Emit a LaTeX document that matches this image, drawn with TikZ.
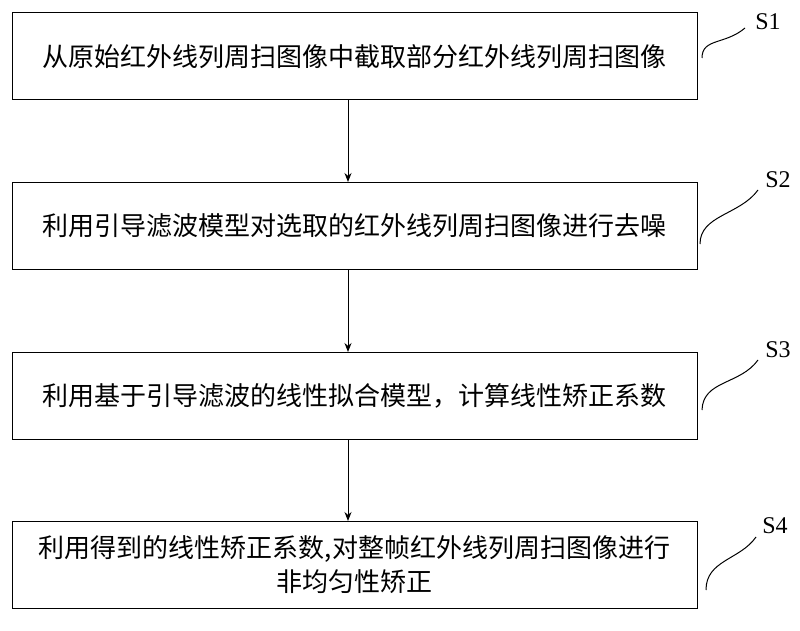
\documentclass[tikz,border=0pt]{standalone}
\usepackage{fontspec}
\setmainfont{Liberation Serif}
\newfontfamily\cjk{Noto Sans CJK SC}
\usetikzlibrary{arrows.meta}
\begin{document}
\begin{tikzpicture}[x=1pt,y=-1pt,
  box/.style={draw,line width=1pt,minimum width=685pt,minimum height=87pt,inner sep=0pt,font=\cjk\fontsize{26}{34}\selectfont,align=center},
  arr/.style={-{Stealth[length=9pt,width=7pt]},line width=1pt},
  lead/.style={line width=1pt},
  lab/.style={font=\fontsize{24}{24}\selectfont}]
\useasboundingbox (0,0) rectangle (800,631);
\node[box] (b1) at (354.5,56.5) {从原始红外线列周扫图像中截取部分红外线列周扫图像};
\node[box] (b2) at (354.5,226) {利用引导滤波模型对选取的红外线列周扫图像进行去噪};
\node[box] (b3) at (354.5,396) {利用基于引导滤波的线性拟合模型，计算线性矫正系数};
\node[box] (b4) at (354.5,565) {利用得到的线性矫正系数,对整帧红外线列周扫图像进行\\非均匀性矫正};
\draw[arr] (b1.south -| 348,0) -- (b2.north -| 348,0);
\draw[arr] (b2.south -| 348,0) -- (b3.north -| 348,0);
\draw[arr] (b3.south -| 348,0) -- (b4.north -| 348,0);
\node[lab] (s1) at (768,22) {S1};
\node[lab] (s2) at (778,180) {S2};
\node[lab] (s3) at (778,350) {S3};
\node[lab] (s4) at (775,526) {S4};
\coordinate (e1) at (702,58);
\coordinate (e2) at (700,244);
\coordinate (e3) at (702,410);
\coordinate (e4) at (706,590);
\draw[lead] (e1) .. controls (702,38) and (725,45) .. (745,28);
\draw[lead] (e2) .. controls (700,215) and (740,215) .. (758,190);
\draw[lead] (e3) .. controls (703,380) and (740,385) .. (758,360);
\draw[lead] (e4) .. controls (706,560) and (740,560) .. (756,537);
\end{tikzpicture}
\end{document}
